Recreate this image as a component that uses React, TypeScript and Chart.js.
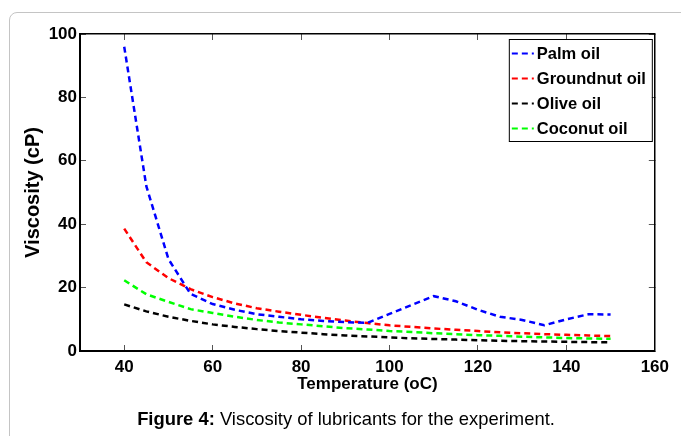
import React, { useEffect, useRef } from "react";
import { Chart, registerables } from "chart.js";

Chart.register(...registerables);

const temperatures = [40, 45, 50, 55, 60, 65, 70, 75, 80, 85, 90, 95, 100, 105, 110, 115, 120, 125, 130, 135, 140, 145, 150];
const palmOil = [96, 52, 29, 18, 14.8, 13, 11.6, 10.8, 10, 9.5, 9.1, 8.9, 11.7, 14.5, 17.3, 15.7, 13, 10.8, 9.8, 8.1, 10, 11.6, 11.5];
const groundnutOil = [38.6, 28, 23, 19.5, 17, 15, 13.5, 12.4, 11.4, 10.5, 9.6, 8.8, 8.1, 7.6, 7.1, 6.7, 6.3, 5.9, 5.6, 5.3, 5.1, 4.9, 4.7];
const oliveOil = [14.7, 12.5, 10.8, 9.5, 8.4, 7.6, 6.9, 6.3, 5.8, 5.3, 4.9, 4.6, 4.3, 4.0, 3.8, 3.6, 3.4, 3.2, 3.1, 3.0, 2.9, 2.8, 2.75];
const coconutOil = [22.3, 17.9, 15.5, 13.2, 12, 10.8, 9.8, 9, 8.4, 7.8, 7.2, 6.8, 6.3, 6.0, 5.6, 5.3, 5.0, 4.8, 4.5, 4.3, 4.1, 3.95, 3.85];

const seriesNames = ["Palm oil", "Groundnut oil", "Olive oil", "Coconut oil"];
const seriesColors = ["#0000ff", "#ff0000", "#000000", "#00ff00"];
const xTickValues = [40, 60, 80, 100, 120, 140, 160];
const yTickValues = [0, 20, 40, 60, 80, 100];

const FONT = '"Liberation Sans", Arial, sans-serif';

const boxLegend = {
  id: "boxLegend",
  afterDatasetsDraw(chart: any) {
    const { ctx, chartArea } = chart;
    const x0 = chartArea.right - 146;
    const y0 = chartArea.top + 5;
    const w = 143;
    const h = 102;
    ctx.save();
    ctx.fillStyle = "#ffffff";
    ctx.fillRect(x0, y0, w, h);
    ctx.strokeStyle = "#000000";
    ctx.lineWidth = 1;
    ctx.strokeRect(x0 + 0.5, y0 + 0.5, w, h);
    chart.data.datasets.forEach((ds: any, i: number) => {
      const y = y0 + 14.5 + i * 25;
      ctx.setLineDash([6, 4]);
      ctx.strokeStyle = ds.borderColor;
      ctx.lineWidth = 2;
      ctx.beginPath();
      ctx.moveTo(x0 + 3, y);
      ctx.lineTo(x0 + 25, y);
      ctx.stroke();
      ctx.setLineDash([]);
      ctx.fillStyle = "#000000";
      ctx.font = `bold 16.5px ${FONT}`;
      ctx.textBaseline = "middle";
      ctx.textAlign = "left";
      ctx.fillText(ds.label, x0 + 28, y + 1);
    });
    ctx.restore();
  },
};

export default function App() {
  const ref = useRef<HTMLCanvasElement | null>(null);

  useEffect(() => {
    if (!ref.current) return;
    const seriesValues = [palmOil, groundnutOil, oliveOil, coconutOil];
    const datasets = seriesValues.map((vals, i) => ({
      label: seriesNames[i],
      data: temperatures.map((t, j) => ({ x: t, y: vals[j] })),
      borderColor: seriesColors[i],
      backgroundColor: seriesColors[i],
      borderWidth: 2.5,
      borderDash: [6, 4],
      pointRadius: 0,
      tension: 0,
      fill: false,
    }));

    const tickSetter = (vals: number[]) => (s: any) => {
      s.ticks = vals.map((v) => ({ value: v }));
    };

    const chart = new Chart(ref.current, {
      type: "line",
      data: { datasets },
      plugins: [boxLegend],
      options: {
        animation: false,
        responsive: false,
        devicePixelRatio: 1,
        layout: { padding: { left: 0, top: 34, right: 23, bottom: 0 } },
        plugins: { legend: { display: false }, tooltip: { enabled: false } },
        scales: {
          x: {
            type: "linear",
            position: "bottom",
            min: 30,
            max: 160,
            afterBuildTicks: tickSetter(xTickValues),
            afterFit: (s: any) => { s.height = 85; },
            ticks: {
              color: "#000",
              font: { family: FONT, size: 17, weight: "bold" },
              padding: 12,
              maxRotation: 0,
              autoSkip: false,
            },
            grid: { drawOnChartArea: false, tickLength: -6, tickColor: "#555", color: "#555", lineWidth: 1 },
            border: { display: true, color: "#000", width: 2 },
            title: {
              display: true,
              text: "Temperature (oC)",
              color: "#000",
              font: { family: FONT, size: 17, weight: "bold" },
              padding: { top: 0, bottom: 41 },
            },
          },
          y: {
            type: "linear",
            position: "left",
            min: 0,
            max: 100,
            afterBuildTicks: tickSetter(yTickValues),
            afterFit: (s: any) => { s.width = 80; },
            ticks: {
              color: "#000",
              font: { family: FONT, size: 17, weight: "bold" },
              padding: 9,
            },
            grid: { drawOnChartArea: false, tickLength: -6, tickColor: "#555", color: "#555", lineWidth: 1 },
            border: { display: true, color: "#000", width: 2 },
            title: {
              display: true,
              text: "Viscosity (cP)",
              color: "#000",
              font: { family: FONT, size: 20, weight: "bold" },
              padding: { top: 21, bottom: 0 },
            },
          },
          x2: {
            type: "linear",
            axis: "x",
            position: "top",
            min: 30,
            max: 160,
            afterBuildTicks: tickSetter(xTickValues),
            afterFit: (s: any) => { s.height = 0; },
            ticks: { display: false },
            grid: { drawOnChartArea: false, tickLength: -6, tickColor: "#555", color: "#555", lineWidth: 1 },
            border: { display: true, color: "#000", width: 1.5 },
          },
          y2: {
            type: "linear",
            axis: "y",
            position: "right",
            min: 0,
            max: 100,
            afterBuildTicks: tickSetter(yTickValues),
            afterFit: (s: any) => { s.width = 0; },
            ticks: { display: false },
            grid: { drawOnChartArea: false, tickLength: -6, tickColor: "#555", color: "#555", lineWidth: 1 },
            border: { display: true, color: "#000", width: 1.5 },
          },
        },
      } as any,
    });
    return () => chart.destroy();
  }, []);

  return (
    <div style={{ position: "fixed", left: 0, top: 0, width: 681, height: 436, overflow: "hidden", background: "#fff" }}>
      <div
        style={{
          position: "absolute",
          left: 9,
          top: 12,
          width: 700,
          height: 460,
          border: "1px solid #c4c4c4",
          borderRadius: 8,
          boxSizing: "border-box",
        }}
      />
      <canvas ref={ref} width={681} height={436} style={{ position: "absolute", left: 0, top: 0, width: 681, height: 436 }} />
      <div
        style={{
          position: "absolute",
          left: 0,
          width: 692,
          top: 408,
          textAlign: "center",
          fontFamily: FONT,
          fontSize: 18.4,
          color: "#000",
          lineHeight: "22px",
        }}
      >
        <b>Figure 4:</b> Viscosity of lubricants for the experiment.
      </div>
    </div>
  );
}
